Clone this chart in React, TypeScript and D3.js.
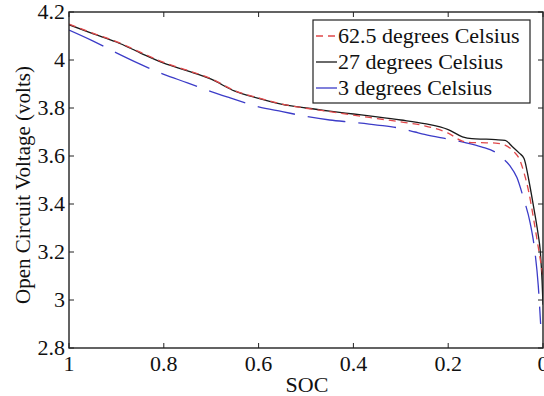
import React from "react";
import * as d3 from "d3";

const socHot = [1, 0.95, 0.9, 0.85, 0.8, 0.75, 0.7, 0.65, 0.6, 0.55, 0.5, 0.45, 0.4, 0.35, 0.3, 0.25, 0.2, 0.17, 0.15, 0.12, 0.1, 0.08, 0.06, 0.05, 0.04, 0.03, 0.02, 0.01, 0.005, 0];
const v625 = [4.15, 4.112, 4.077, 4.033, 3.99, 3.957, 3.922, 3.872, 3.842, 3.816, 3.799, 3.785, 3.77, 3.756, 3.742, 3.726, 3.695, 3.662, 3.656, 3.655, 3.654, 3.645, 3.615, 3.588, 3.53, 3.45, 3.34, 3.22, 3.16, 3.1];

const socMid = [1, 0.95, 0.9, 0.85, 0.8, 0.75, 0.7, 0.65, 0.6, 0.55, 0.5, 0.45, 0.4, 0.35, 0.3, 0.25, 0.2, 0.17, 0.15, 0.12, 0.1, 0.08, 0.065, 0.05, 0.04, 0.03, 0.02, 0.01, 0.006, 0.002, 0];
const v27 = [4.147, 4.11, 4.075, 4.03, 3.987, 3.955, 3.92, 3.87, 3.84, 3.815, 3.8, 3.787, 3.775, 3.763, 3.75, 3.735, 3.71, 3.68, 3.672, 3.67, 3.668, 3.665, 3.64, 3.612, 3.59, 3.5, 3.39, 3.27, 3.21, 3.08, 2.98];

const socCold = [1, 0.95, 0.9, 0.85, 0.8, 0.75, 0.7, 0.66, 0.6, 0.55, 0.5, 0.45, 0.4, 0.35, 0.3, 0.27, 0.25, 0.2, 0.16, 0.13, 0.1, 0.085, 0.07, 0.055, 0.042, 0.027, 0.017, 0.01, 0.005];
const v3 = [4.125, 4.08, 4.03, 3.983, 3.94, 3.905, 3.868, 3.842, 3.805, 3.785, 3.765, 3.75, 3.74, 3.729, 3.715, 3.7, 3.69, 3.67, 3.654, 3.638, 3.615, 3.59, 3.56, 3.51, 3.43, 3.32, 3.2, 3.06, 2.9];

const xTicks = [1, 0.8, 0.6, 0.4, 0.2, 0];
const yTicks = [2.8, 3, 3.2, 3.4, 3.6, 3.8, 4, 4.2];

const legendLabels = ["62.5 degrees Celsius", "27 degrees Celsius", "3 degrees Celsius"];

const W = 544, H = 396;
const L = 69, R = 543, T = 12, B = 348;
const txt = { fontFamily: '"Liberation Serif", "Tinos", monospace' };

export default function App() {
  const x = d3.scaleLinear().domain([1, 0]).range([L, R]);
  const y = d3.scaleLinear().domain([2.8, 4.2]).range([B, T]);
  const line = d3
    .line<[number, number]>()
    .x((d) => x(d[0]))
    .y((d) => y(d[1]))
    .curve(d3.curveMonotoneX);

  const series = [
    { soc: socHot, v: v625, color: "#e0484a", dash: "7,5", label: legendLabels[0] },
    { soc: socMid, v: v27, color: "#1a1a1a", dash: "", label: legendLabels[1] },
    { soc: socCold, v: v3, color: "#3c3cc8", dash: "38,13", label: legendLabels[2] },
  ];

  const tl = 5;
  return (
    <svg
      width={W}
      height={H}
      style={{ position: "absolute", left: 0, top: 0, background: "#fff" }}
    >
      <rect x={0} y={0} width={W} height={H} fill="#fff" />
      <defs>
        <clipPath id="plotclip">
          <rect x={L} y={T} width={R - L} height={B - T} />
        </clipPath>
      </defs>
      <g clipPath="url(#plotclip)">
        {[2, 1, 0].map((i) => {
          const s = series[i];
          const pts = s.soc.map((c, j) => [c, s.v[j]] as [number, number]);
          return (
            <path
              key={i}
              d={line(pts) || ""}
              fill="none"
              stroke={s.color}
              strokeWidth={1.3}
              strokeDasharray={s.dash || undefined}
            />
          );
        })}
      </g>
      <rect x={L} y={T} width={R - L} height={B - T} fill="none" stroke="#222" strokeWidth={1.4} />
      {xTicks.map((t) => (
        <g key={"x" + t}>
          <line x1={x(t)} x2={x(t)} y1={B} y2={B - tl} stroke="#222" strokeWidth={1} />
          <line x1={x(t)} x2={x(t)} y1={T} y2={T + tl} stroke="#222" strokeWidth={1} />
          <text x={x(t)} y={371} textAnchor="middle" fontSize={22} fill="#111" style={txt}>
            {String(t)}
          </text>
        </g>
      ))}
      {yTicks.map((t) => (
        <g key={"y" + t}>
          <line x1={L} x2={L + tl} y1={y(t)} y2={y(t)} stroke="#222" strokeWidth={1} />
          <line x1={R} x2={R - tl} y1={y(t)} y2={y(t)} stroke="#222" strokeWidth={1} />
          <text x={65} y={y(t) + 7} textAnchor="end" fontSize={22} fill="#111" style={txt}>
            {d3.format("")(t)}
          </text>
        </g>
      ))}
      <text x={307} y={392} textAnchor="middle" fontSize={22} fill="#111" style={txt}>
        SOC
      </text>
      <text
        transform={`translate(30,${(T + B) / 2 + 5}) rotate(-90)`}
        textAnchor="middle"
        fontSize={21}
        fill="#111"
        style={txt}
      >
        Open Circuit Voltage (volts)
      </text>
      <rect x={313} y={20} width={217} height={83} fill="#fff" stroke="#222" strokeWidth={1.2} />
      {series.map((s, i) => {
        const cy = 36 + i * 26;
        return (
          <g key={"l" + i}>
            <line
              x1={316}
              x2={337}
              y1={cy}
              y2={cy}
              stroke={s.color}
              strokeWidth={1.3}
              strokeDasharray={s.dash || undefined}
            />
            <text x={338} y={cy + 7} fontSize={22} fill="#111" style={txt}>
              {s.label}
            </text>
          </g>
        );
      })}
    </svg>
  );
}
